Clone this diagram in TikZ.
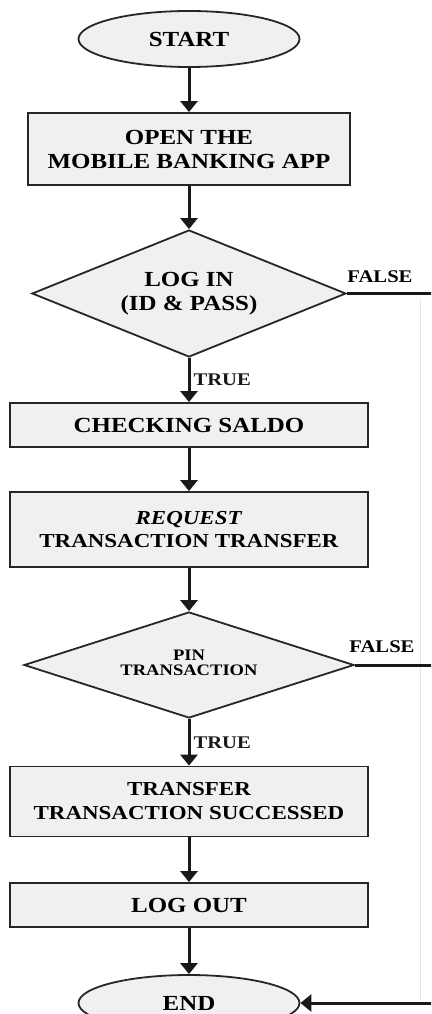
\documentclass[tikz,border=0pt]{standalone}
\usepackage{fontspec}
\setmainfont{Liberation Serif}[FakeStretch=1.16]
\usetikzlibrary{shapes.geometric,arrows.meta}
\tikzset{
  base/.style={draw=black!85,line width=1.8pt,fill=black!6,inner sep=0pt,align=center,
    font=\fontsize{21.5}{24}\selectfont\bfseries},
  procbox/.style={base,rectangle,minimum width=358pt},
  termnode/.style={base,ellipse,minimum width=221pt,minimum height=56pt},
  decision/.style={base,diamond,aspect=2.5},
  flow/.style={line width=3pt,black!90,-{Triangle[width=17pt,length=11pt]}},
  plain/.style={line width=3pt,black!90},
  lbl/.style={font=\fontsize{17.8}{20}\selectfont\bfseries,inner sep=0pt}
}
\begin{document}
\begin{tikzpicture}[x=1pt,y=-1pt]
\useasboundingbox (0,0) rectangle (431,1014);
\clip (0,0) rectangle (431,1014);
\fill[white] (0,0) rectangle (431,1014);
% faint scan line on the right
\draw[black!10,line width=1pt] (420.5,300) -- (420.5,1000);

\node[termnode] (start) at (189,39) {START};
\node[procbox,minimum width=322pt,minimum height=72pt] (open) at (189,149) {OPEN THE\\MOBILE BANKING APP};
\node[decision,minimum width=314pt,minimum height=127pt] (login) at (189,293.5) {LOG IN\\(ID \& PASS)};
\node[procbox,minimum height=44pt] (check) at (189,425) {CHECKING SALDO};
\node[procbox,minimum height=75pt,font=\fontsize{19.8}{23}\selectfont\bfseries] (req) at (189,529.5) {\textit{REQUEST}\\TRANSACTION TRANSFER};
\node[decision,minimum width=330pt,minimum height=106pt,font=\fontsize{16}{17}\selectfont\bfseries] (pin) at (189,665) {\raisebox{6pt}{\begin{tabular}{@{}c@{}}PIN\\[-2pt]TRANSACTION\end{tabular}}};
\node[procbox,minimum height=70pt,font=\fontsize{19.8}{24}\selectfont\bfseries] (succ) at (189,801.5) {TRANSFER\\TRANSACTION SUCCESSED};
\node[procbox,minimum height=44pt] (logout) at (189,905) {LOG OUT};
\node[termnode] (end) at (189,1003) {END};

\coordinate (rt) at (437,0);

\draw[flow] (start) -- (open);
\draw[flow] (open) -- (login);
\draw[flow] (login) -- node[lbl,right=3pt] (t1) {TRUE} (check);
\draw[flow] (check) -- (req);
\draw[flow] (req) -- (pin);
\draw[flow] (pin) -- node[lbl,right=3pt] (t2) {TRUE} (succ);
\draw[flow] (succ) -- (logout);
\draw[flow] (logout) -- (end);

\draw[plain] (login.east) -- (login.east -| rt);
\draw[plain] (pin.east) -- (pin.east -| rt);
\draw[flow] (login.east -| rt) -- (end.east -| rt) -- (end.east);

\node[lbl] (f1) at (380,277) {FALSE};
\node[lbl] (f2) at (382,647) {FALSE};
\end{tikzpicture}
\end{document}
